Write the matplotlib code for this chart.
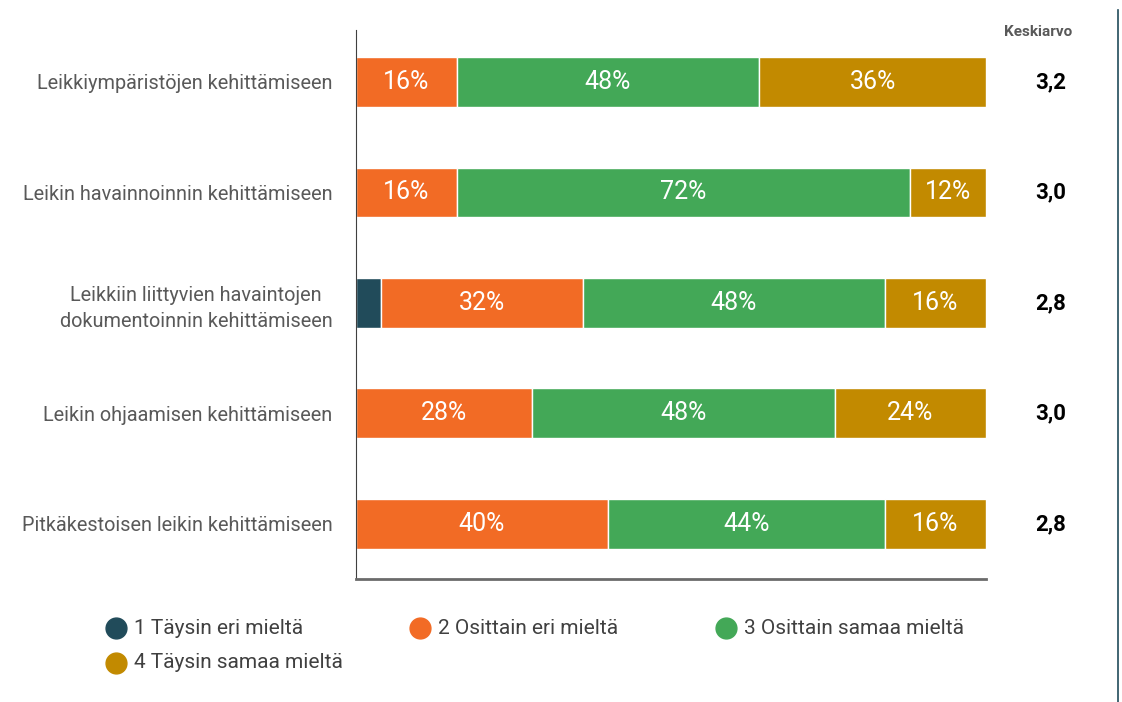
import matplotlib
matplotlib.use("Agg")
import matplotlib.pyplot as plt
from matplotlib.lines import Line2D
import numpy as np

categories = ["Leikkiympäristöjen kehittämiseen",
              "Leikin havainnoinnin kehittämiseen",
              "Leikkiin liittyvien havaintojen\ndokumentoinnin kehittämiseen",
              "Leikin ohjaamisen kehittämiseen",
              "Pitkäkestoisen leikin kehittämiseen"]
series = ["1 Täysin eri mieltä", "2 Osittain eri mieltä",
          "3 Osittain samaa mieltä", "4 Täysin samaa mieltä"]
values = [[0, 16, 48, 36],
          [0, 16, 72, 12],
          [4, 32, 48, 16],
          [0, 28, 48, 24],
          [0, 40, 44, 16]]
means = ["3,2", "3,0", "2,8", "3,0", "2,8"]
colors = ["#214B5A", "#F26B25", "#43A857", "#C28A00"]

plt.rcParams["font.family"] = ["Roboto", "DejaVu Sans"]

fig = plt.figure(figsize=(11.22, 7.02), dpi=100)
ax = fig.add_axes([356/1122, 1-579/702, 630/1122, 549/702])

vals = np.array(values, dtype=float)
y = np.arange(len(categories))
left = np.zeros(len(categories))
for j in range(len(series)):
    ax.barh(y, vals[:, j], left=left, height=0.45, color=colors[j],
            edgecolor="white", linewidth=1)
    for i in range(len(categories)):
        v = vals[i, j]
        if v >= 10:
            ax.text(left[i] + v/2, y[i], f"{v:.0f}%", ha="center", va="center",
                    color="white", fontsize=18)
    left += vals[:, j]

ax.set_xlim(0, 100)
ax.set_ylim(4.5, -0.47)
ax.set_xticks([])
ax.set_yticks(y)
ax.set_yticklabels(categories, fontsize=14.3, color="#595959", linespacing=1.5)
ax.tick_params(axis="y", length=0, pad=17)
for lbl in ax.get_yticklabels():
    lbl.set_multialignment("center")
for s in ["top", "right"]:
    ax.spines[s].set_visible(False)
ax.spines["left"].set_color("#404040")
ax.spines["bottom"].set_color("#6b6b6b")
ax.spines["bottom"].set_linewidth(2)

fig.text(1038/1122, 1-32/702, "Keskiarvo", ha="center", va="center",
         fontsize=11, color="#595959", fontweight="bold")
for i, m in enumerate(means):
    fig.text(1051/1122, 1-(82 + i*110.5)/702, m, ha="center", va="center",
             fontsize=16, fontweight="bold", color="black")

fig.add_artist(Line2D([1118/1122, 1118/1122], [1-10/702, 0], color="#214B5A",
                      linewidth=1.2))

pos = [(116, 628), (420, 628), (726, 628), (116, 663)]
for (px, py), lab, c in zip(pos, series, colors):
    fig.add_artist(Line2D([px/1122], [1-py/702], marker="o", markersize=15,
                          color=c, linestyle="none"))
    fig.text((px+18)/1122, 1-py/702, lab, ha="left", va="center",
             fontsize=15, color="#404040")

fig.savefig("out.png", dpi=100)
